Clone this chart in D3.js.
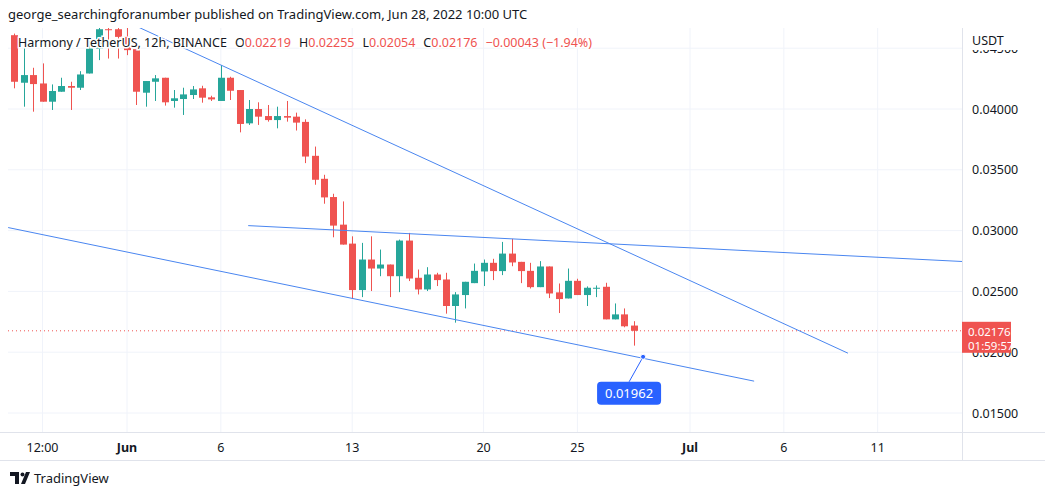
<!DOCTYPE html>
<html><head><meta charset="utf-8">
<script src="https://cdn.jsdelivr.net/npm/d3@7"></script>
<style>body{margin:0;background:#fff;font-family:"Noto Sans",Roboto,sans-serif}</style>
</head><body><svg id="c" width="1045" height="495"></svg>
<script>
// 12h candles from May 26 2022 00:00 UTC: [open, high, low, close]
const startTime = Date.UTC(2022, 4, 26, 0);
const opens  = [0.04607,0.04216,0.04279,0.04210,0.04060,0.04142,0.04189,0.04175,0.04292,0.04497,0.04656,0.04656,0.04593,0.04492,0.04134,0.04224,0.04257,0.04066,0.04082,0.04115,0.04170,0.04096,0.04066,0.04257,0.04156,0.03882,0.04000,0.03942,0.03909,0.03942,
  0.03937,0.03894,0.03615,0.03426,0.03276,0.03049,0.02893,0.02511,0.02762,0.02688,0.02721,0.02625,0.02918,0.02612,0.02516,0.02639,0.02598,0.02380,0.02470,0.02568,0.02664,0.02735,0.02667,0.02811,0.02743,0.02669,0.02535,0.02705,0.02492,0.02442,0.02587,0.02470,0.02524,0.02538,0.02270,0.02311,0.02219];
const highs  = [0.04620,0.04511,0.04339,0.04375,0.04202,0.04257,0.04224,0.04311,0.04557,0.04720,0.04720,0.04700,0.04680,0.04492,0.04230,0.04279,0.04257,0.04156,0.04175,0.04189,0.04191,0.04109,0.04361,0.04265,0.04156,0.04074,0.04055,0.04033,0.04019,0.04066,
  0.03970,0.03915,0.03691,0.03459,0.03303,0.03240,0.02953,0.02899,0.02953,0.02844,0.02721,0.02926,0.02981,0.02680,0.02699,0.02653,0.02653,0.02494,0.02579,0.02729,0.02762,0.02768,0.02907,0.02932,0.02743,0.02735,0.02749,0.02705,0.02565,0.02688,0.02604,0.02541,0.02549,0.02571,0.02401,0.02360,0.02255];
const lows   = [0.04170,0.04019,0.03978,0.04060,0.03992,0.04142,0.03992,0.04156,0.04292,0.04402,0.04415,0.04415,0.04443,0.04033,0.04019,0.04066,0.04028,0.04011,0.03951,0.04082,0.04052,0.04066,0.04066,0.04074,0.03808,0.03869,0.03869,0.03896,0.03841,0.03896,
  0.03823,0.03555,0.03377,0.03221,0.02945,0.02885,0.02440,0.02453,0.02503,0.02625,0.02453,0.02494,0.02585,0.02475,0.02503,0.02544,0.02317,0.02243,0.02360,0.02568,0.02544,0.02593,0.02634,0.02707,0.02568,0.02524,0.02535,0.02445,0.02322,0.02442,0.02470,0.02380,0.02453,0.02270,0.02270,0.02205,0.02054];
const closes = [0.04224,0.04279,0.04205,0.04060,0.04148,0.04189,0.04175,0.04284,0.04497,0.04656,0.04648,0.04593,0.04484,0.04142,0.04230,0.04252,0.04055,0.04088,0.04120,0.04161,0.04093,0.04079,0.04257,0.04150,0.03877,0.04000,0.03937,0.03909,0.03942,0.03929,
  0.03888,0.03609,0.03418,0.03273,0.03041,0.02885,0.02511,0.02762,0.02688,0.02721,0.02625,0.02918,0.02606,0.02516,0.02639,0.02593,0.02380,0.02475,0.02579,0.02669,0.02735,0.02667,0.02811,0.02738,0.02667,0.02535,0.02705,0.02483,0.02437,0.02587,0.02470,0.02530,0.02530,0.02270,0.02311,0.02213,0.02176];

// trend lines: [[time, price], [time, price]]
const trendLines = [
  [[Date.UTC(2022,5,1,15), 0.04672], [Date.UTC(2022,6,9,10), 0.01992]],
  [[Date.UTC(2022,5,7,11), 0.03041], [Date.UTC(2022,6,15,12), 0.02746]],
  [[Date.UTC(2022,4,25,16), 0.03025], [Date.UTC(2022,6,4,10), 0.01762]]
];
const markPoint = [Date.UTC(2022,5,28,12), 0.01962];
const priceTicks = [0.015, 0.020, 0.025, 0.030, 0.035, 0.040, 0.045];
const timeTicks = [
  [Date.UTC(2022,4,27,12), "12:00"], [Date.UTC(2022,5,1), "Jun"], [Date.UTC(2022,5,6), "6"],
  [Date.UTC(2022,5,13), "13"], [Date.UTC(2022,5,20), "20"], [Date.UTC(2022,5,25), "25"],
  [Date.UTC(2022,6,1), "Jul"], [Date.UTC(2022,6,6), "6"], [Date.UTC(2022,6,11), "11"]
];
const lastPrice = 0.02176;

const GREEN = "#26a69a", RED = "#ef5350", BLUE = "#2962ff", GRID = "#f0f3fa", TXT = "#131722";
const plot = {left: 8, right: 962, top: 28, bottom: 432};

const svg = d3.select("#c");
const x = d3.scaleTime().domain([Date.UTC(2022,5,1), Date.UTC(2022,6,1)]).range([127, 690]);
const y = d3.scaleLinear().domain([0.015, 0.040]).range([413, 109]);

svg.append("defs").append("clipPath").attr("id", "clip")
  .append("rect").attr("x", plot.left).attr("y", plot.top)
  .attr("width", plot.right - plot.left).attr("height", plot.bottom - plot.top);

// grid
const grid = svg.append("g");
priceTicks.forEach(p => grid.append("line").attr("x1", plot.left).attr("x2", plot.right)
  .attr("y1", y(p)).attr("y2", y(p)).attr("stroke", GRID));
timeTicks.forEach(t => grid.append("line").attr("x1", x(t[0])).attr("x2", x(t[0]))
  .attr("y1", plot.top).attr("y2", plot.bottom).attr("stroke", GRID));

const g = svg.append("g").attr("clip-path", "url(#clip)");

// price line
g.append("line").attr("x1", plot.left).attr("x2", plot.right)
  .attr("y1", y(lastPrice)).attr("y2", y(lastPrice))
  .attr("stroke", RED).attr("stroke-dasharray", "1,3");

const candles = opens.map((o, i) => ({t: startTime + i * 12 * 3600e3, o, h: highs[i], l: lows[i], c: closes[i]}));
candles.forEach(d => {
  const col = d.c >= d.o ? GREEN : RED;
  const cx = Math.round(x(d.t)) + 0.5;
  g.append("line").attr("x1", cx).attr("x2", cx).attr("y1", y(d.h)).attr("y2", y(d.l)).attr("stroke", col);
  const top = y(Math.max(d.o, d.c)), bot = y(Math.min(d.o, d.c));
  g.append("rect").attr("x", cx - 3.5).attr("width", 7).attr("y", top)
    .attr("height", Math.max(1, bot - top)).attr("fill", col);
});

trendLines.forEach(l => g.append("line")
  .attr("x1", x(l[0][0])).attr("y1", y(l[0][1])).attr("x2", x(l[1][0])).attr("y2", y(l[1][1]))
  .attr("stroke", "#4a86f0").attr("stroke-width", 1));

// callout
const mx = x(markPoint[0]), my = y(markPoint[1]);
g.append("line").attr("x1", mx).attr("y1", my).attr("x2", mx - 14).attr("y2", my + 25).attr("stroke", BLUE);
g.append("circle").attr("cx", mx).attr("cy", my).attr("r", 2.5).attr("fill", BLUE).attr("stroke", "#fff");
g.append("rect").attr("x", mx - 46).attr("y", my + 25).attr("width", 64).attr("height", 23).attr("rx", 4).attr("fill", BLUE);
g.append("text").attr("x", mx - 14).attr("y", my + 41).attr("text-anchor", "middle")
  .attr("fill", "#fff").attr("font-size", 13).text(d3.format(".5f")(markPoint[1]));

// axes frame
svg.append("line").attr("x1", plot.right + 0.5).attr("x2", plot.right + 0.5).attr("y1", 28).attr("y2", 460).attr("stroke", "#e0e3eb");
svg.append("line").attr("x1", 0).attr("x2", 1045).attr("y1", plot.bottom + 0.5).attr("y2", plot.bottom + 0.5).attr("stroke", "#e0e3eb");
svg.append("line").attr("x1", 0).attr("x2", 1045).attr("y1", 460.5).attr("y2", 460.5).attr("stroke", "#e0e3eb");

svg.append("defs").append("clipPath").attr("id", "axclip")
  .append("rect").attr("x", 963).attr("y", 50).attr("width", 82).attr("height", 382);
const ax = svg.append("g").attr("clip-path", "url(#axclip)");
priceTicks.forEach(p => ax.append("text").attr("x", 972).attr("y", y(p) + 4.5)
  .attr("font-size", 12.5).attr("fill", TXT).text(d3.format(".5f")(p)));
svg.append("text").attr("x", 972).attr("y", 45).attr("font-size", 12.5).attr("fill", TXT).text("USDT");

timeTicks.forEach(t => svg.append("text").attr("x", x(t[0])).attr("y", 452).attr("text-anchor", "middle")
  .attr("font-size", 12.5).attr("fill", TXT).attr("font-weight", t[1].length == 3 ? "bold" : "normal").text(t[1]));

// last price label
svg.append("rect").attr("x", 962).attr("y", y(lastPrice) - 9).attr("width", 49).attr("height", 31).attr("fill", RED);
svg.append("text").attr("x", 968).attr("y", y(lastPrice) + 5).attr("font-size", 11.5).attr("fill", "#fff").text(d3.format(".5f")(lastPrice));
svg.append("text").attr("x", 968).attr("y", y(lastPrice) + 19).attr("font-size", 11.5).attr("fill", "#fff").text("01:59:57");

// header
svg.append("text").attr("x", 8).attr("y", 19).attr("font-size", 13).attr("fill", TXT)
  .text("george_searchingforanumber published on TradingView.com, Jun 28, 2022 10:00 UTC");
const leg = svg.append("text").attr("x", 18).attr("y", 47).attr("font-size", 12.5).attr("fill", TXT)
  .attr("stroke", "#fff").attr("stroke-width", 3).attr("paint-order", "stroke");
[["Harmony / TetherUS, 12h, BINANCE", TXT, 0], ["O", TXT, 8], ["0.02219", RED, 0], ["H", TXT, 8], ["0.02255", RED, 0],
 ["L", TXT, 8], ["0.02054", RED, 0], ["C", TXT, 8], ["0.02176", RED, 0], ["\u22120.00043 (\u22121.94%)", RED, 8]]
  .forEach(s => leg.append("tspan").attr("fill", s[1]).attr("dx", s[2]).text(s[0]));

// footer logo
svg.append("path").attr("d", "M10 472h9v12h-4v-8h-5z M21 484l5-12h4l-5 12z").attr("fill", TXT);
svg.append("circle").attr("cx", 22.5).attr("cy", 474.5).attr("r", 2).attr("fill", TXT);
svg.append("text").attr("x", 34).attr("y", 483).attr("font-size", 13).attr("fill", TXT).text("TradingView");
</script></body></html>
